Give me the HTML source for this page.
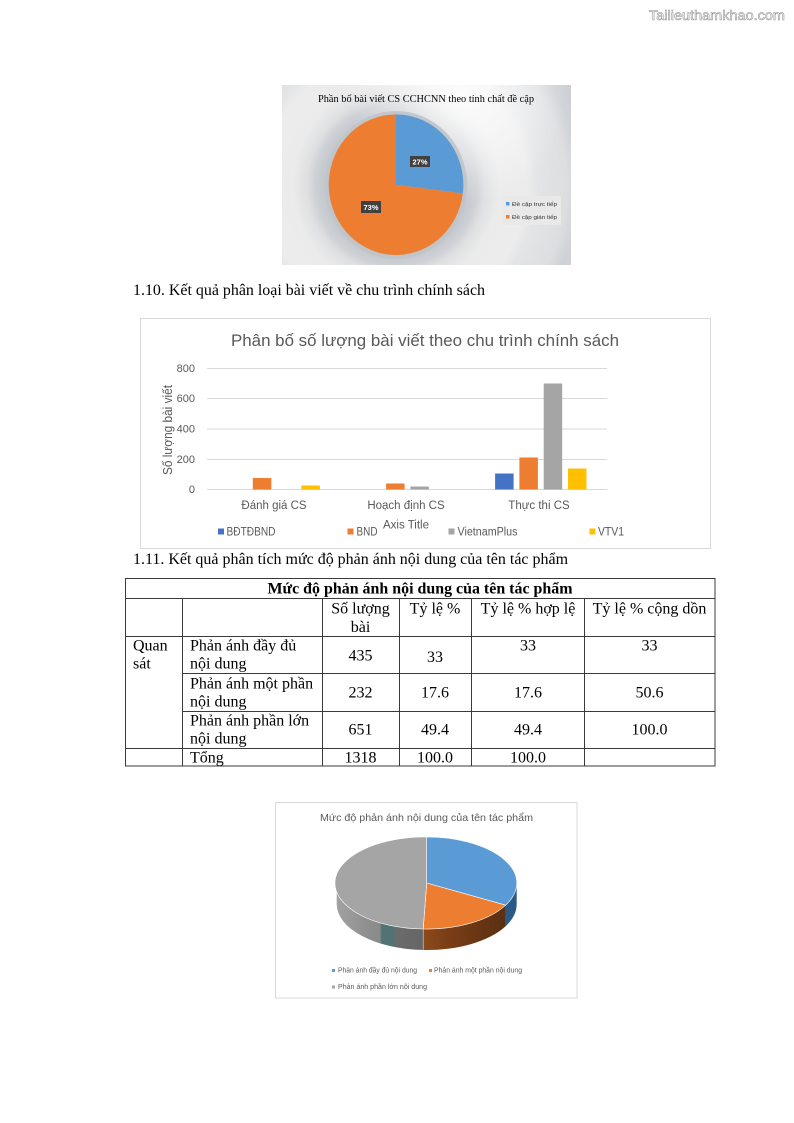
<!DOCTYPE html>
<html><head><meta charset="utf-8"><style>
html,body{margin:0;padding:0;background:#fff;}
svg{display:block;}
</style></head><body>
<svg width="794" height="1123" viewBox="0 0 794 1123" xmlns="http://www.w3.org/2000/svg">
<defs>
<radialGradient id="bg1" gradientUnits="userSpaceOnUse" cx="396" cy="185" r="230">
<stop offset="0" stop-color="#c8ccd0"/>
<stop offset="0.31" stop-color="#c4c8cd"/>
<stop offset="0.35" stop-color="#cdd0d4"/>
<stop offset="0.39" stop-color="#dfe0e2"/>
<stop offset="0.45" stop-color="#ebebeb"/>
<stop offset="0.57" stop-color="#ececec"/>
<stop offset="0.62" stop-color="#e3e4e6"/>
<stop offset="0.74" stop-color="#dcdee0"/>
<stop offset="0.8" stop-color="#cfd2d6"/>
<stop offset="1" stop-color="#c3c6ca"/>
</radialGradient>
<radialGradient id="wh" gradientUnits="userSpaceOnUse" cx="460" cy="95" r="110">
<stop offset="0" stop-color="#ffffff" stop-opacity="0.85"/>
<stop offset="0.6" stop-color="#ffffff" stop-opacity="0.4"/>
<stop offset="1" stop-color="#ffffff" stop-opacity="0"/>
</radialGradient>
<linearGradient id="oside" gradientUnits="userSpaceOnUse" x1="423" y1="0" x2="506" y2="0">
<stop offset="0" stop-color="#8c4a1c"/>
<stop offset="0.3" stop-color="#7a3e16"/>
<stop offset="1" stop-color="#5a2f12"/>
</linearGradient>
<linearGradient id="gside" gradientUnits="userSpaceOnUse" x1="336.7" y1="0" x2="423.2" y2="0">
<stop offset="0" stop-color="#a2a2a2"/>
<stop offset="0.35" stop-color="#8f8f8f"/>
<stop offset="0.5" stop-color="#8a8a8a"/>
<stop offset="0.52" stop-color="#527373"/>
<stop offset="0.66" stop-color="#527373"/>
<stop offset="0.68" stop-color="#6b6b6b"/>
<stop offset="1" stop-color="#666"/>
</linearGradient>
<clipPath id="c1"><rect x="282" y="85" width="289" height="180"/></clipPath>
</defs>

<!-- watermark -->
<text x="649" y="20" font-family="Liberation Sans, sans-serif" font-size="14" fill="#f6f6f6" stroke="#8a8a8a" stroke-width="0.5" textLength="136" lengthAdjust="spacingAndGlyphs">Tailieuthamkhao.com</text>

<!-- Chart 1 -->
<g clip-path="url(#c1)">
<rect x="282" y="85" width="289" height="180" fill="url(#bg1)"/>
<rect x="282" y="85" width="289" height="180" fill="url(#wh)"/>
</g>
<ellipse cx="396" cy="185" rx="71" ry="74" fill="#c0c4c9" opacity="0.9"/>
<text x="318" y="102" font-family="Liberation Serif, serif" font-size="10.5" fill="#000" textLength="216" lengthAdjust="spacingAndGlyphs">Phần bố bài viết CS CCHCNN theo tính chất đề cập</text>
<path d="M396,184.7 L396,114.4 A67.3,70.3 0 0 1 462.8,193.5 Z" fill="#5b9bd5"/>
<path d="M396,184.7 L462.8,193.5 A67.3,70.3 0 1 1 396,114.4 Z" fill="#ed7d31"/>
<rect x="410" y="156" width="20" height="11" fill="#404040"/>
<text x="420" y="164.5" font-family="Liberation Sans, sans-serif" font-size="7.5" font-weight="bold" fill="#fff" text-anchor="middle">27%</text>
<rect x="361" y="201" width="20" height="12" fill="#404040"/>
<text x="371" y="210" font-family="Liberation Sans, sans-serif" font-size="7.5" font-weight="bold" fill="#fff" text-anchor="middle">73%</text>
<rect x="503" y="196" width="58" height="29" fill="#e9e9ea"/>
<rect x="506" y="202" width="3.5" height="3.5" fill="#5b9bd5"/>
<text x="512" y="206" font-family="Liberation Sans, sans-serif" font-size="5.5" fill="#333" textLength="45" lengthAdjust="spacingAndGlyphs">Đề cập trực tiếp</text>
<rect x="506" y="215" width="3.5" height="3.5" fill="#ed7d31"/>
<text x="512" y="219" font-family="Liberation Sans, sans-serif" font-size="5.5" fill="#333" textLength="45" lengthAdjust="spacingAndGlyphs">Đề cập gián tiếp</text>

<!-- heading 1.10 -->
<text x="133" y="295" font-family="Liberation Serif, serif" font-size="16" fill="#000" textLength="352" lengthAdjust="spacingAndGlyphs">1.10. Kết quả phân loại bài viết về chu trình chính sách</text>

<!-- Chart 2 -->
<rect x="140.5" y="318.5" width="570" height="230" fill="#fff" stroke="#d9d9d9" stroke-width="1"/>
<text x="231" y="346" font-family="Liberation Sans, sans-serif" font-size="17" fill="#595959" textLength="388" lengthAdjust="spacingAndGlyphs">Phân bố số lượng bài viết theo chu trình chính sách</text>
<g stroke="#d9d9d9" stroke-width="1">
<line x1="207" y1="368.5" x2="607" y2="368.5"/>
<line x1="207" y1="398.5" x2="607" y2="398.5"/>
<line x1="207" y1="429" x2="607" y2="429"/>
<line x1="207" y1="459.5" x2="607" y2="459.5"/>
<line x1="207" y1="489.5" x2="607" y2="489.5"/>
</g>
<g font-family="Liberation Sans, sans-serif" font-size="11" fill="#595959" text-anchor="end">
<text x="195" y="372">800</text>
<text x="195" y="402">600</text>
<text x="195" y="432.5">400</text>
<text x="195" y="463">200</text>
<text x="195" y="493">0</text>
</g>
<text transform="translate(172,430) rotate(-90)" font-family="Liberation Sans, sans-serif" font-size="12.5" fill="#595959" text-anchor="middle" textLength="90" lengthAdjust="spacingAndGlyphs">Số lượng bài viết</text>
<!-- bars -->
<rect x="252.8" y="478" width="18.5" height="11.5" fill="#ed7d31"/>
<rect x="301.4" y="485.5" width="18.5" height="4" fill="#ffc000"/>
<rect x="386.1" y="483.5" width="18.5" height="6" fill="#ed7d31"/>
<rect x="410.4" y="486.5" width="18.5" height="3" fill="#a5a5a5"/>
<rect x="495.1" y="473.5" width="18.5" height="16" fill="#4472c4"/>
<rect x="519.4" y="457.5" width="18.5" height="32" fill="#ed7d31"/>
<rect x="543.7" y="383.5" width="18.5" height="106" fill="#a5a5a5"/>
<rect x="568" y="468.5" width="18.5" height="21" fill="#ffc000"/>
<g font-family="Liberation Sans, sans-serif" font-size="11.5" fill="#595959" text-anchor="middle">
<text x="274" y="509">Đánh giá CS</text>
<text x="406" y="509">Hoạch định CS</text>
<text x="539" y="509">Thực thi CS</text>
<text x="406" y="528.5">Axis Title</text>
</g>
<g font-family="Liberation Sans, sans-serif" font-size="11.5" fill="#595959">
<rect x="218" y="528.5" width="6" height="6" fill="#4472c4"/>
<text x="226.5" y="535.5" textLength="49" lengthAdjust="spacingAndGlyphs">BĐTĐBND</text>
<rect x="347.5" y="528.5" width="6" height="6" fill="#ed7d31"/>
<text x="356.5" y="535.5" textLength="21" lengthAdjust="spacingAndGlyphs">BND</text>
<rect x="448.5" y="528.5" width="6" height="6" fill="#a5a5a5"/>
<text x="457.5" y="535.5" textLength="60" lengthAdjust="spacingAndGlyphs">VietnamPlus</text>
<rect x="589.5" y="528.5" width="6" height="6" fill="#ffc000"/>
<text x="598" y="535.5" textLength="26" lengthAdjust="spacingAndGlyphs">VTV1</text>
</g>

<!-- heading 1.11 -->
<text x="133" y="564" font-family="Liberation Serif, serif" font-size="16" fill="#000" textLength="435" lengthAdjust="spacingAndGlyphs">1.11. Kết quả phân tích mức độ phản ánh nội dung của tên tác phẩm</text>

<!-- Table -->
<g stroke="#3a3a3a" stroke-width="1" fill="none">
<rect x="125.5" y="578.5" width="589.5" height="187.5"/>
<line x1="125.5" y1="598.5" x2="715" y2="598.5"/>
<line x1="125.5" y1="636.5" x2="715" y2="636.5"/>
<line x1="182.5" y1="673.5" x2="715" y2="673.5"/>
<line x1="182.5" y1="711.5" x2="715" y2="711.5"/>
<line x1="125.5" y1="748.5" x2="715" y2="748.5"/>
<line x1="182.5" y1="598.5" x2="182.5" y2="766"/>
<line x1="322.5" y1="598.5" x2="322.5" y2="766"/>
<line x1="399.5" y1="598.5" x2="399.5" y2="766"/>
<line x1="471.5" y1="598.5" x2="471.5" y2="766"/>
<line x1="584.5" y1="598.5" x2="584.5" y2="766"/>
</g>
<g font-family="Liberation Serif, serif" font-size="16" fill="#000">
<text x="420" y="593.5" font-weight="bold" text-anchor="middle" textLength="305" lengthAdjust="spacingAndGlyphs">Mức độ phản ánh nội dung của tên tác phẩm</text>
<text x="360.5" y="613.5" text-anchor="middle">Số lượng</text>
<text x="360.5" y="632" text-anchor="middle">bài</text>
<text x="435" y="613.5" text-anchor="middle">Tỷ lệ %</text>
<text x="528" y="613.5" text-anchor="middle">Tỷ lệ % hợp lệ</text>
<text x="649.5" y="613.5" text-anchor="middle">Tỷ lệ % cộng dồn</text>
<text x="133" y="650.5">Quan</text>
<text x="133" y="668.5">sát</text>
<text x="190" y="650.5">Phản ánh đầy đủ</text>
<text x="190" y="668.5">nội dung</text>
<text x="360.5" y="660.5" text-anchor="middle">435</text>
<text x="435" y="662" text-anchor="middle">33</text>
<text x="528" y="650.5" text-anchor="middle">33</text>
<text x="649.5" y="650.5" text-anchor="middle">33</text>
<text x="190" y="688.5">Phản ánh một phần</text>
<text x="190" y="706.5">nội dung</text>
<text x="360.5" y="697.5" text-anchor="middle">232</text>
<text x="435" y="697.5" text-anchor="middle">17.6</text>
<text x="528" y="697.5" text-anchor="middle">17.6</text>
<text x="649.5" y="697.5" text-anchor="middle">50.6</text>
<text x="190" y="725.5">Phản ánh phần lớn</text>
<text x="190" y="743.5">nội dung</text>
<text x="360.5" y="734.5" text-anchor="middle">651</text>
<text x="435" y="734.5" text-anchor="middle">49.4</text>
<text x="528" y="734.5" text-anchor="middle">49.4</text>
<text x="649.5" y="734.5" text-anchor="middle">100.0</text>
<text x="190" y="762.5">Tổng</text>
<text x="360.5" y="762.5" text-anchor="middle">1318</text>
<text x="435" y="762.5" text-anchor="middle">100.0</text>
<text x="528" y="762.5" text-anchor="middle">100.0</text>
</g>

<!-- Chart 3 -->
<rect x="275.5" y="802.5" width="301.5" height="195.5" fill="#fff" stroke="#d9d9d9" stroke-width="1"/>
<text x="320" y="821" font-family="Liberation Sans, sans-serif" font-size="10.5" fill="#595959" textLength="213" lengthAdjust="spacingAndGlyphs">Mức độ phản ánh nội dung của tên tác phẩm</text>
<!-- sides -->
<path d="M516.7,883 A90,46 0 0 1 505.6,905.2 L505.6,926.2 A90,46 0 0 0 516.7,904 Z" fill="#2c5a86"/>
<path d="M505.6,905.2 A90,46 0 0 1 423.2,929 L423.2,950 A90,46 0 0 0 505.6,926.2 Z" fill="url(#oside)"/>
<path d="M423.2,929 A90,46 0 0 1 336.7,883 L336.7,904 A90,46 0 0 0 423.2,950 Z" fill="url(#gside)"/>
<!-- tops -->
<path d="M426.7,883 L426.7,837 A90,46 0 0 1 505.6,905.2 Z" fill="#5b9bd5" stroke="#fff" stroke-width="0.6"/>
<path d="M426.7,883 L505.6,905.2 A90,46 0 0 1 423.2,929 Z" fill="#ed7d31" stroke="#fff" stroke-width="0.6"/>
<path d="M426.7,883 L423.2,929 A90,46 0 0 1 426.7,837 Z" fill="#a5a5a5" stroke="#fff" stroke-width="0.6"/>
<line x1="423.2" y1="929" x2="423.2" y2="950" stroke="#ddd" stroke-width="0.6"/>
<!-- legend -->
<g font-family="Liberation Sans, sans-serif" font-size="7" fill="#595959">
<rect x="332" y="969" width="3" height="3" fill="#5b9bd5"/>
<text x="338" y="972.5" textLength="79" lengthAdjust="spacingAndGlyphs">Phản ánh đầy đủ nội dung</text>
<rect x="429" y="969" width="3" height="3" fill="#ed7d31"/>
<text x="434" y="972.5" textLength="88" lengthAdjust="spacingAndGlyphs">Phản ánh một phần nội dung</text>
<rect x="332" y="985.5" width="3" height="3" fill="#a5a5a5"/>
<text x="338" y="989" textLength="89" lengthAdjust="spacingAndGlyphs">Phản ánh phần lớn nội dung</text>
</g>
</svg>
</body></html>
